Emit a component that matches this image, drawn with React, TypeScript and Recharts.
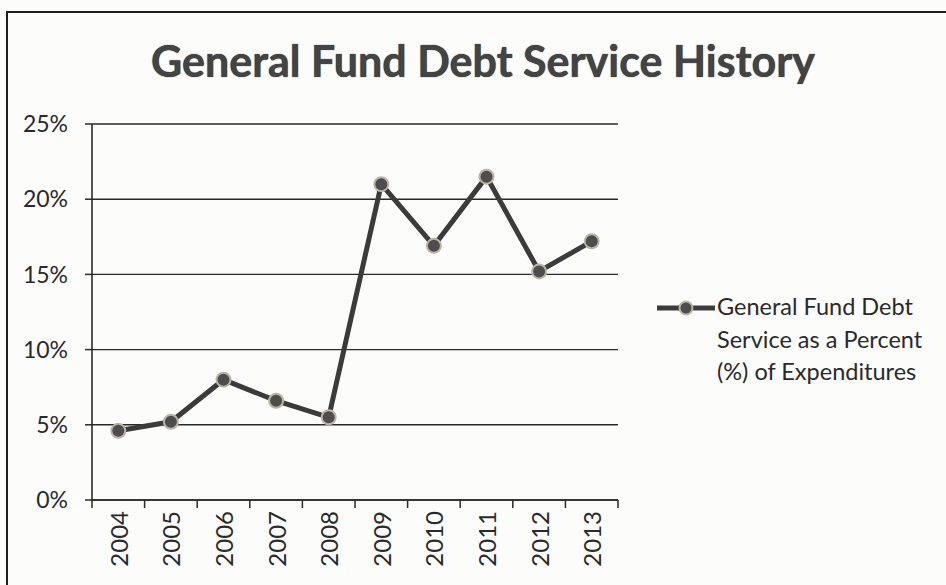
import { LineChart, Line, CartesianGrid, XAxis, YAxis } from "recharts";

const years = ["2004", "2005", "2006", "2007", "2008", "2009", "2010", "2011", "2012", "2013"];
const debtServicePct = [0.046, 0.052, 0.08, 0.066, 0.055, 0.21, 0.169, 0.215, 0.152, 0.172];
const yTicks = [0, 0.05, 0.1, 0.15, 0.2, 0.25];

const seriesName = "General Fund Debt Service as a Percent (%) of Expenditures";
const legendLines = ["General Fund Debt", "Service as a Percent", "(%) of Expenditures"];

const data = years.map((year, i) => ({ year, value: debtServicePct[i] }));

const FONT = "Lato, 'Open Sans', sans-serif";
const INK = "#2a2a2a";

function YearTick(props: any) {
  const { x, y, payload, index, visibleTicksCount } = props;
  const half = payload?.offset ?? 0;
  const last = index === visibleTicksCount - 1;
  return (
    <g>
      <line x1={x - half} x2={x - half} y1={y} y2={y + 8} stroke={INK} strokeWidth={1.5} />
      {last && <line x1={x + half} x2={x + half} y1={y} y2={y + 8} stroke={INK} strokeWidth={1.5} />}
      <text
        x={x}
        y={y + 11}
        transform={`rotate(-90, ${x}, ${y + 11})`}
        textAnchor="end"
        dominantBaseline="central"
        fontFamily={FONT}
        fontSize={24}
        fill={INK}
      >
        {payload.value}
      </text>
    </g>
  );
}

export default function App() {
  return (
    <div
      style={{
        position: "absolute",
        left: 0,
        top: 0,
        width: 946,
        height: 585,
        overflow: "hidden",
        background: "#fcfcfa",
        fontFamily: FONT,
      }}
    >
      <div
        style={{
          position: "absolute",
          left: 6,
          top: 11,
          width: 1000,
          height: 1000,
          border: "2px solid #1e1e1e",
        }}
      />
      <div
        style={{
          position: "absolute",
          left: 0,
          width: 966,
          top: 35,
          textAlign: "center",
          fontSize: 43,
          fontWeight: 700,
          color: "#444444",
          textShadow: "0 0 1px #111",
          lineHeight: "52px",
        }}
      >
        General Fund Debt Service History
      </div>

      <div style={{ position: "absolute", left: 0, top: 0 }}>
        <LineChart
          width={946}
          height={585}
          data={data}
          margin={{ top: 124, right: 328, left: 0, bottom: 0 }}
        >
          <CartesianGrid vertical={false} stroke={INK} strokeWidth={1.4} />
          <XAxis
            dataKey="year"
            scale="band"
            height={85}
            tickLine={false}
            tickSize={0}
            tickMargin={0}
            axisLine={{ stroke: INK, strokeWidth: 1.6 }}
            tick={<YearTick />}
            interval={0}
          />
          <YAxis
            width={92}
            domain={[0, 0.25]}
            ticks={yTicks}
            tickFormatter={(v: number) => `${Math.round(v * 100)}%`}
            tickSize={7}
            tickMargin={17}
            tickLine={{ stroke: INK, strokeWidth: 1.5 }}
            axisLine={{ stroke: INK, strokeWidth: 1.6 }}
            tick={{ fill: INK, fontSize: 23, fontFamily: FONT }}
          />
          <Line
            name={seriesName}
            dataKey="value"
            type="linear"
            stroke="#3b3b3b"
            strokeWidth={5}
            dot={{ r: 7, fill: "#4d4d4d", stroke: "#b9b6a8", strokeWidth: 2 }}
            isAnimationActive={false}
          />
        </LineChart>
      </div>

      <div style={{ position: "absolute", left: 655, top: 290, width: 290 }}>
        <svg width={62} height={20} style={{ position: "absolute", left: 0, top: 8 }}>
          <line x1={2} x2={60} y1={10} y2={10} stroke="#3b3b3b" strokeWidth={5} />
          <circle cx={31} cy={10} r={6.5} fill="#4d4d4d" stroke="#b9b6a8" strokeWidth={2} />
        </svg>
        <div
          style={{
            position: "absolute",
            left: 62,
            top: 0,
            fontSize: 23.5,
            lineHeight: "32.5px",
            color: INK,
            whiteSpace: "nowrap",
          }}
        >
          {legendLines.map((t) => (
            <div key={t}>{t}</div>
          ))}
        </div>
      </div>
    </div>
  );
}
